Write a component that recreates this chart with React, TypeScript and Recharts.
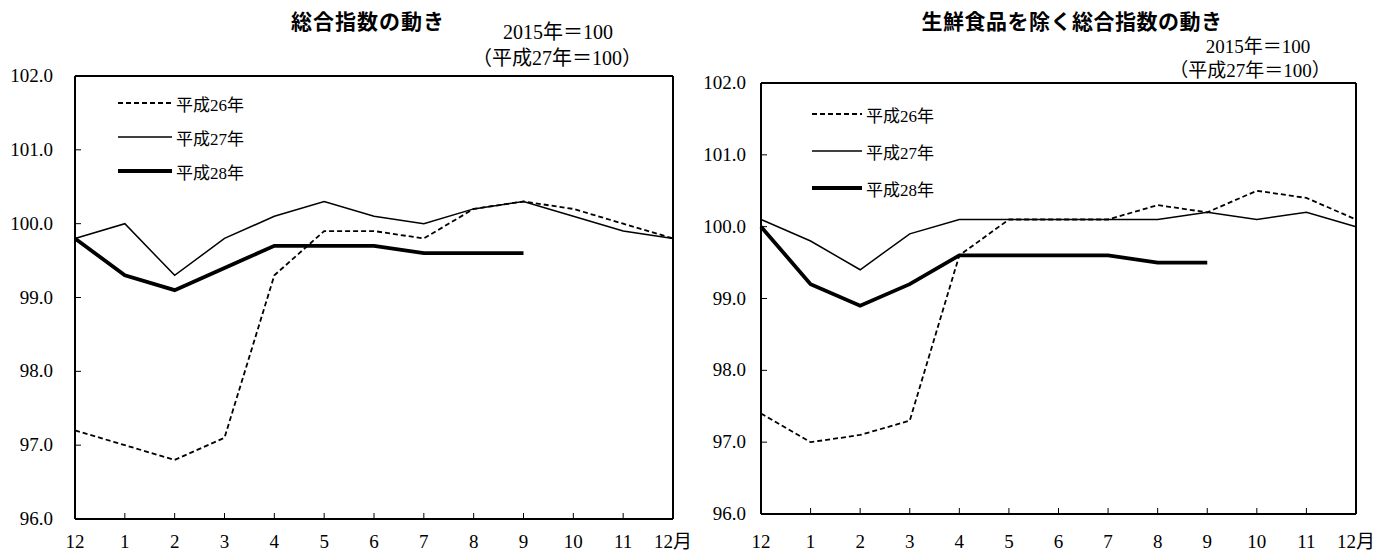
import React from 'react';
import { LineChart, Line, XAxis, YAxis, ReferenceLine, Legend } from 'recharts';

// x categories: 前年12月 → 当年12月
const months = ['12', '1', '2', '3', '4', '5', '6', '7', '8', '9', '10', '11', '12月'];
const yTicks = [96, 97, 98, 99, 100, 101, 102];

// 総合指数
const totalH26 = [97.2, 97.0, 96.8, 97.1, 99.3, 99.9, 99.9, 99.8, 100.2, 100.3, 100.2, 100.0, 99.8];
const totalH27 = [99.8, 100.0, 99.3, 99.8, 100.1, 100.3, 100.1, 100.0, 100.2, 100.3, 100.1, 99.9, 99.8];
const totalH28 = [99.8, 99.3, 99.1, 99.4, 99.7, 99.7, 99.7, 99.6, 99.6, 99.6, null, null, null];

// 生鮮食品を除く総合指数
const coreH26 = [97.4, 97.0, 97.1, 97.3, 99.6, 100.1, 100.1, 100.1, 100.3, 100.2, 100.5, 100.4, 100.1];
const coreH27 = [100.1, 99.8, 99.4, 99.9, 100.1, 100.1, 100.1, 100.1, 100.1, 100.2, 100.1, 100.2, 100.0];
const coreH28 = [100.0, 99.2, 98.9, 99.2, 99.6, 99.6, 99.6, 99.6, 99.5, 99.5, null, null, null];

const series = [
  { key: 'h26', name: '平成26年', dash: '5 3', width: 1.8 },
  { key: 'h27', name: '平成27年', dash: undefined, width: 1.5 },
  { key: 'h28', name: '平成28年', dash: undefined, width: 3.8 },
];

const FONT = '"Liberation Serif", "Noto Sans CJK JP", serif';
const TITLE_FONT = '"Noto Sans CJK JP", sans-serif';

const buildRows = (a: (number | null)[], b: (number | null)[], c: (number | null)[]) =>
  months.map((m, i) => ({ month: m, h26: a[i], h27: b[i], h28: c[i] }));

const totalRows = buildRows(totalH26, totalH27, totalH28);
const coreRows = buildRows(coreH26, coreH27, coreH28);

const LegendBox = ({ lineLen, gap }: { lineLen: number; gap: number }) => (
  <div style={{ display: 'flex', flexDirection: 'column', gap }}>
    {series.map((s) => (
      <div key={s.key} style={{ display: 'flex', alignItems: 'center', height: 20 }}>
        <svg width={lineLen} height={10} style={{ display: 'block' }}>
          <line x1={0} x2={lineLen} y1={5} y2={5} stroke="#000" strokeWidth={s.width} strokeDasharray={s.dash} />
        </svg>
        <span style={{ marginLeft: 4, fontSize: 17, fontFamily: FONT, color: '#000', whiteSpace: 'nowrap' }}>
          {s.name}
        </span>
      </div>
    ))}
  </div>
);

type PanelProps = {
  rows: any[];
  left: number;
  width: number;
  plot: { top: number; right: number; bottom: number; left: number };
  yLabelGap: number;
  xLabelDy: number;
  legendPos: { left: number; top: number };
  legendLine: number;
  legendGap: number;
};

const Panel = ({ rows, left, width, plot, yLabelGap, xLabelDy, legendPos, legendLine, legendGap }: PanelProps) => {
  const XTick = (props: any) => {
    const { x, y, payload } = props;
    return (
      <g>
        <line x1={x} y1={y} x2={x} y2={y - 6} stroke="#000" strokeWidth={1} />
        <text x={x} y={y + xLabelDy} textAnchor="middle" fontSize={19} fontFamily={FONT} fill="#000">
          {payload.value}
        </text>
      </g>
    );
  };
  const YTick = (props: any) => {
    const { x, y, payload } = props;
    return (
      <g>
        <line x1={x} y1={y} x2={x + 6} y2={y} stroke="#000" strokeWidth={1} />
        <text x={x - yLabelGap} y={y + 6} textAnchor="end" fontSize={19} fontFamily={FONT} fill="#000">
          {Number(payload.value).toFixed(1)}
        </text>
      </g>
    );
  };
  return (
    <div style={{ position: 'absolute', left, top: 0 }}>
      <LineChart width={width} height={553} data={rows} margin={{ top: plot.top, right: plot.right, bottom: 0, left: 0 }}>
        <XAxis
          dataKey="month"
          height={plot.bottom}
          interval={0}
          tickSize={0}
          tickMargin={0}
          tickLine={false}
          axisLine={{ stroke: '#000', strokeWidth: 2 }}
          tick={<XTick />}
        />
        <YAxis
          width={plot.left}
          domain={[96, 102]}
          ticks={yTicks}
          tickSize={0}
          tickMargin={0}
          tickLine={false}
          axisLine={{ stroke: '#000', strokeWidth: 2 }}
          tick={<YTick />}
        />
        <ReferenceLine y={102} stroke="#000" strokeWidth={2} />
        <ReferenceLine x="12月" stroke="#000" strokeWidth={2} />
        <Legend
          layout="horizontal"
          align="center"
          verticalAlign="middle"
          wrapperStyle={{ left: legendPos.left, top: legendPos.top, width: 220 }}
          content={() => <LegendBox lineLen={legendLine} gap={legendGap} />}
        />
        {series.map((s) => (
          <Line
            key={s.key}
            type="linear"
            dataKey={s.key}
            name={s.name}
            stroke="#000"
            strokeWidth={s.width}
            strokeDasharray={s.dash}
            dot={false}
            activeDot={false}
            connectNulls={false}
            isAnimationActive={false}
          />
        ))}
      </LineChart>
    </div>
  );
};

const Label = ({ x, y, size, bold, children, font, spacing }: any) => (
  <div
    style={{
      position: 'absolute',
      left: x,
      top: y,
      transform: 'translate(-50%, -50%)',
      fontSize: size,
      fontWeight: bold ? 700 : 400,
      fontFamily: font,
      letterSpacing: spacing || 0,
      whiteSpace: 'nowrap',
      lineHeight: 1,
      color: '#000',
    }}
  >
    {children}
  </div>
);

export default function App() {
  return (
    <div style={{ position: 'absolute', left: 0, top: 0, width: 1389, height: 553, background: '#fff', overflow: 'hidden' }}>
      <Panel
        rows={totalRows}
        left={0}
        width={700}
        plot={{ top: 76, right: 27, bottom: 34, left: 75 }}
        yLabelGap={22}
        xLabelDy={29}
        legendPos={{ left: 118, top: 93 }}
        legendLine={54}
        legendGap={14}
      />
      <Panel
        rows={coreRows}
        left={700}
        width={689}
        plot={{ top: 83, right: 33, bottom: 39, left: 61 }}
        yLabelGap={15}
        xLabelDy={34}
        legendPos={{ left: 112, top: 104 }}
        legendLine={50}
        legendGap={17}
      />
      <Label x={368} y={20} size={21} bold spacing={1} font={TITLE_FONT}>総合指数の動き</Label>
      <Label x={1072} y={20} size={21} bold spacing={0.5} font={TITLE_FONT}>生鮮食品を除く総合指数の動き</Label>
      <Label x={558} y={32} size={20} font={FONT}>2015年＝100</Label>
      <Label x={557} y={58} size={20} font={FONT}>（平成27年＝100）</Label>
      <Label x={1258} y={46} size={19} font={FONT}>2015年＝100</Label>
      <Label x={1250} y={70} size={19} font={FONT}>（平成27年＝100）</Label>
    </div>
  );
}
